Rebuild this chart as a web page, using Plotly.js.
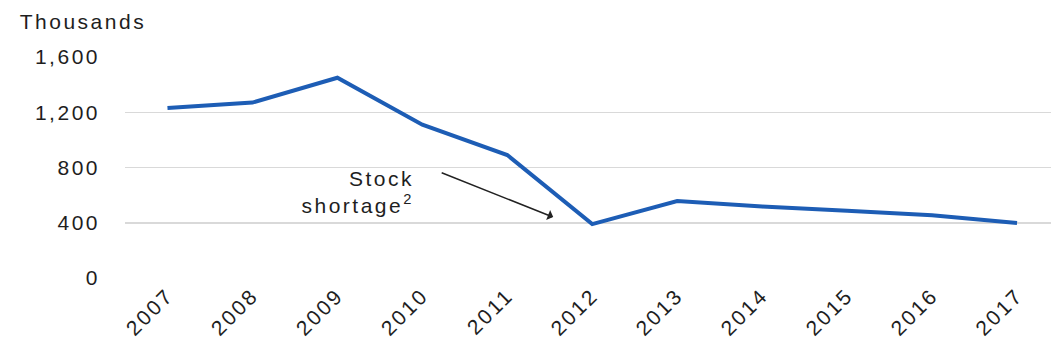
<!DOCTYPE html>
<html>
<head>
<meta charset="utf-8">
<script src="https://cdn.plot.ly/plotly-3.0.1.min.js"></script>
<style>
  html, body { margin: 0; padding: 0; background: #ffffff; }
  #chart { width: 1058px; height: 353px; }
  #chart svg text { letter-spacing: 2.5px; }
</style>
</head>
<body>
<div id="chart"></div>
<script>
const years = ["2007","2008","2009","2010","2011","2012","2013","2014","2015","2016","2017"];
const values = [1230, 1270, 1450, 1110, 890, 390, 557, 517, 486, 455, 398];
const yTicks = [0, 400, 800, 1200, 1600];
const unitLabel = "Thousands";
const noteText = "Stock<br>shortage<sup>2</sup>";

const fontFamily = "Liberation Sans, Arial, sans-serif";
const textColor = "#1e1e1e";
const fontSize = 21;

const trace = {
  x: years.map((_, i) => i),
  y: values,
  type: "scatter",
  mode: "lines",
  line: { color: "#1d5db5", width: 4 },
  hoverinfo: "skip"
};

const layout = {
  width: 1058,
  height: 353,
  margin: { l: 125, r: 7, t: 57, b: 75 },
  paper_bgcolor: "#ffffff",
  plot_bgcolor: "#ffffff",
  showlegend: false,
  font: { family: fontFamily, size: fontSize, color: textColor },
  xaxis: {
    range: [-0.5, 10.4],
    tickmode: "array",
    tickvals: years.map((_, i) => i),
    ticktext: years,
    tickangle: -45,
    showgrid: false,
    zeroline: false,
    showline: false,
    ticks: "",
    tickfont: { family: fontFamily, size: fontSize, color: textColor },
    fixedrange: true
  },
  yaxis: {
    range: [0, 1600],
    tickmode: "array",
    tickvals: yTicks,
    ticktext: yTicks.map(v => v.toLocaleString("en-US")),
    showgrid: true,
    gridcolor: "#d9d9d9",
    gridwidth: 1.5,
    zeroline: false,
    showline: false,
    ticks: "",
    ticklabelstandoff: 24,
    tickfont: { family: fontFamily, size: fontSize, color: textColor },
    fixedrange: true
  },
  annotations: [
    {
      xref: "paper", yref: "paper",
      x: -0.104, y: 1.16,
      xanchor: "left", yanchor: "middle",
      text: unitLabel,
      showarrow: false,
      font: { family: fontFamily, size: fontSize, color: textColor }
    },
    {
      xref: "x", yref: "y",
      x: 2.92, y: 622,
      xanchor: "right", yanchor: "middle",
      align: "right",
      text: noteText,
      showarrow: false,
      font: { family: fontFamily, size: fontSize, color: textColor }
    },
    {
      xref: "x", yref: "y",
      axref: "x", ayref: "y",
      x: 4.54, y: 441,
      ax: 3.21, ay: 766,
      text: "",
      showarrow: true,
      arrowhead: 1,
      arrowsize: 1.2,
      arrowwidth: 1.5,
      arrowcolor: "#222222"
    }
  ]
};

Plotly.newPlot("chart", [trace], layout, { displayModeBar: false, staticPlot: true });
</script>
</body>
</html>
